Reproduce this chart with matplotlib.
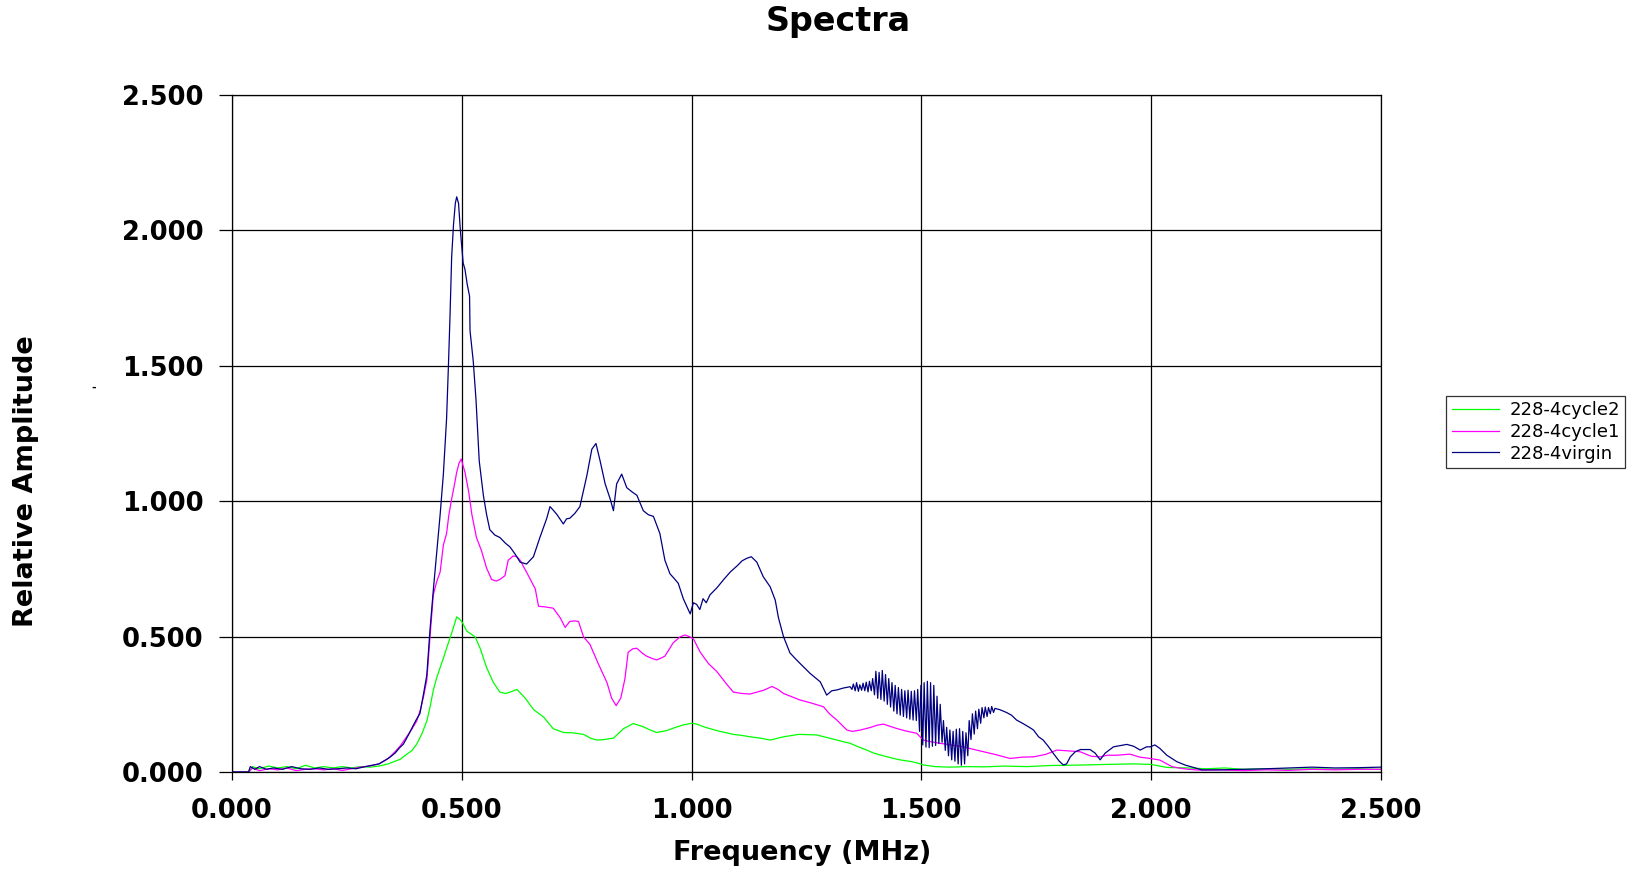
import matplotlib
matplotlib.use("Agg")
import matplotlib.pyplot as plt
from matplotlib.ticker import FormatStrFormatter

# --- data (frequency in MHz, relative amplitude) ---
# 228-4virgin, split in three parts: up to 1.345, the ringing part, and the tail
virgin_freq_a = [0.000, 0.036, 0.040, 0.050, 0.060, 0.075, 0.090, 0.110, 0.130, 0.150, 0.170, 0.190,
                 0.210, 0.230, 0.250, 0.270, 0.290, 0.305, 0.320, 0.335, 0.344, 0.355, 0.365, 0.373,
                 0.385, 0.395, 0.400, 0.409, 0.417, 0.424, 0.431, 0.438, 0.445, 0.453, 0.460, 0.467,
                 0.471, 0.4745, 0.478, 0.482, 0.486, 0.489, 0.493, 0.497, 0.500, 0.503, 0.507, 0.512,
                 0.517, 0.518, 0.525, 0.531, 0.538, 0.547, 0.554, 0.561, 0.572, 0.583, 0.595, 0.605,
                 0.616, 0.627, 0.641, 0.656, 0.670, 0.685, 0.692, 0.700, 0.707, 0.721, 0.728, 0.735,
                 0.746, 0.757, 0.772, 0.783, 0.792, 0.801, 0.812, 0.823, 0.830, 0.837, 0.848, 0.859,
                 0.870, 0.881, 0.895, 0.906, 0.917, 0.931, 0.942, 0.953, 0.962, 0.971, 0.982, 0.990,
                 0.997, 1.004, 1.011, 1.018, 1.025, 1.032, 1.040, 1.055, 1.070, 1.085, 1.099, 1.110,
                 1.120, 1.130, 1.142, 1.156, 1.171, 1.182, 1.189, 1.200, 1.214, 1.225, 1.236, 1.258,
                 1.280, 1.294, 1.305, 1.316, 1.330, 1.345]
virgin_amp_a = [0.000, 0.000, 0.020, 0.010, 0.020, 0.010, 0.015, 0.010, 0.020, 0.012, 0.010, 0.015,
                0.010, 0.012, 0.015, 0.012, 0.020, 0.025, 0.030, 0.045, 0.055, 0.070, 0.090, 0.103,
                0.140, 0.174, 0.190, 0.216, 0.290, 0.358, 0.527, 0.669, 0.800, 0.951, 1.100, 1.305,
                1.500, 1.686, 1.900, 2.020, 2.100, 2.124, 2.100, 2.000, 1.940, 1.880, 1.856, 1.800,
                1.757, 1.630, 1.517, 1.375, 1.149, 1.022, 0.951, 0.895, 0.875, 0.866, 0.845, 0.831,
                0.805, 0.775, 0.768, 0.795, 0.866, 0.937, 0.980, 0.965, 0.951, 0.916, 0.935, 0.937,
                0.955, 0.980, 1.093, 1.192, 1.213, 1.149, 1.064, 1.008, 0.965, 1.064, 1.100, 1.050,
                1.035, 1.022, 0.965, 0.950, 0.944, 0.881, 0.782, 0.732, 0.715, 0.697, 0.640, 0.610,
                0.584, 0.625, 0.619, 0.600, 0.640, 0.625, 0.654, 0.680, 0.711, 0.740, 0.761, 0.780,
                0.789, 0.795, 0.775, 0.721, 0.684, 0.635, 0.570, 0.500, 0.440, 0.420, 0.401, 0.364,
                0.333, 0.284, 0.300, 0.303, 0.310, 0.315]

virgin_freq_b = [1.349, 1.352, 1.356, 1.359, 1.363, 1.366, 1.370, 1.373, 1.377, 1.380, 1.384, 1.387,
                 1.391, 1.394, 1.398, 1.401, 1.405, 1.408, 1.412, 1.415, 1.419, 1.422, 1.426, 1.429,
                 1.433, 1.436, 1.440, 1.443, 1.447, 1.450, 1.454, 1.457, 1.461, 1.464, 1.468, 1.471,
                 1.475, 1.478, 1.482, 1.485, 1.489, 1.492, 1.496, 1.499, 1.503, 1.506, 1.510, 1.513,
                 1.517, 1.520, 1.524, 1.527, 1.531, 1.534, 1.538, 1.541, 1.545, 1.548, 1.552, 1.555,
                 1.559, 1.562, 1.566, 1.569, 1.573, 1.576, 1.580, 1.583, 1.587, 1.590, 1.594, 1.597,
                 1.601, 1.604, 1.608, 1.611, 1.615, 1.618, 1.622, 1.625, 1.629, 1.632, 1.636, 1.639,
                 1.643, 1.646, 1.650, 1.653, 1.657, 1.660]
virgin_amp_b = [0.305, 0.325, 0.300, 0.330, 0.298, 0.322, 0.302, 0.328, 0.300, 0.332, 0.296, 0.335,
                0.300, 0.345, 0.285, 0.372, 0.272, 0.368, 0.268, 0.375, 0.262, 0.360, 0.250, 0.345,
                0.240, 0.330, 0.225, 0.320, 0.215, 0.312, 0.210, 0.305, 0.205, 0.300, 0.200, 0.302,
                0.195, 0.298, 0.192, 0.300, 0.190, 0.305, 0.150, 0.320, 0.100, 0.330, 0.092, 0.335,
                0.090, 0.330, 0.095, 0.320, 0.098, 0.280, 0.105, 0.250, 0.110, 0.190, 0.080, 0.165,
                0.060, 0.155, 0.045, 0.150, 0.040, 0.158, 0.030, 0.160, 0.025, 0.150, 0.030, 0.145,
                0.060, 0.190, 0.120, 0.215, 0.140, 0.225, 0.160, 0.232, 0.180, 0.238, 0.200, 0.240,
                0.205, 0.238, 0.215, 0.242, 0.220, 0.235]

virgin_freq_c = [1.671, 1.685, 1.696, 1.707, 1.720, 1.735, 1.744, 1.755, 1.765, 1.776, 1.787, 1.800,
                 1.809, 1.816, 1.824, 1.835, 1.846, 1.867, 1.878, 1.889, 1.900, 1.918, 1.947, 1.962,
                 1.976, 1.990, 1.998, 2.008, 2.019, 2.034, 2.056, 2.075, 2.092, 2.110, 2.150, 2.200,
                 2.250, 2.300, 2.350, 2.400, 2.450, 2.500]
virgin_amp_c = [0.230, 0.220, 0.210, 0.192, 0.180, 0.165, 0.155, 0.130, 0.118, 0.095, 0.069, 0.040,
                0.026, 0.030, 0.056, 0.075, 0.083, 0.083, 0.070, 0.045, 0.070, 0.093, 0.102, 0.095,
                0.081, 0.093, 0.093, 0.100, 0.087, 0.062, 0.038, 0.025, 0.017, 0.008, 0.008, 0.010,
                0.012, 0.015, 0.018, 0.015, 0.016, 0.018]

cycle1_freq = [0.000, 0.036, 0.045, 0.060, 0.080, 0.100, 0.120, 0.140, 0.160, 0.180, 0.200, 0.220,
               0.240, 0.260, 0.280, 0.300, 0.320, 0.340, 0.355, 0.366, 0.380, 0.392, 0.402, 0.410,
               0.417, 0.424, 0.431, 0.438, 0.445, 0.453, 0.460, 0.467, 0.472, 0.478, 0.484, 0.489,
               0.494, 0.499, 0.503, 0.507, 0.515, 0.522, 0.532, 0.543, 0.554, 0.565, 0.575, 0.583,
               0.594, 0.601, 0.612, 0.620, 0.627, 0.645, 0.660, 0.667, 0.680, 0.699, 0.714, 0.725,
               0.735, 0.745, 0.754, 0.765, 0.779, 0.797, 0.816, 0.826, 0.836, 0.846, 0.855, 0.862,
               0.872, 0.881, 0.892, 0.902, 0.913, 0.924, 0.933, 0.942, 0.960, 0.975, 0.986, 0.995,
               1.004, 1.019, 1.037, 1.055, 1.077, 1.091, 1.110, 1.127, 1.142, 1.157, 1.175, 1.188,
               1.200, 1.215, 1.236, 1.260, 1.287, 1.300, 1.316, 1.338, 1.350, 1.367, 1.390, 1.404,
               1.417, 1.430, 1.446, 1.465, 1.490, 1.504, 1.520, 1.541, 1.565, 1.591, 1.610, 1.635,
               1.660, 1.693, 1.720, 1.744, 1.770, 1.795, 1.820, 1.845, 1.870, 1.889, 1.905, 1.925,
               1.954, 1.975, 1.998, 2.019, 2.045, 2.060, 2.080, 2.107, 2.150, 2.200, 2.250, 2.300,
               2.350, 2.400, 2.450, 2.500]
cycle1_amp = [0.000, 0.000, 0.015, 0.005, 0.012, 0.008, 0.015, 0.005, 0.010, 0.012, 0.008, 0.012,
              0.006, 0.012, 0.018, 0.022, 0.030, 0.050, 0.075, 0.096, 0.130, 0.160, 0.188, 0.230,
              0.280, 0.340, 0.500, 0.653, 0.700, 0.739, 0.838, 0.881, 0.950, 1.008, 1.060, 1.107,
              1.140, 1.156, 1.130, 1.107, 1.036, 0.951, 0.866, 0.817, 0.753, 0.711, 0.705, 0.711,
              0.725, 0.782, 0.798, 0.795, 0.782, 0.725, 0.676, 0.612, 0.610, 0.605, 0.570, 0.534,
              0.556, 0.558, 0.556, 0.499, 0.471, 0.400, 0.330, 0.273, 0.245, 0.273, 0.344, 0.442,
              0.455, 0.457, 0.440, 0.428, 0.420, 0.414, 0.420, 0.428, 0.477, 0.499, 0.506, 0.500,
              0.492, 0.442, 0.400, 0.371, 0.323, 0.295, 0.290, 0.288, 0.295, 0.302, 0.316, 0.305,
              0.290, 0.280, 0.266, 0.255, 0.241, 0.215, 0.192, 0.155, 0.150, 0.155, 0.165, 0.173,
              0.177, 0.170, 0.161, 0.152, 0.143, 0.118, 0.112, 0.106, 0.100, 0.093, 0.085, 0.075,
              0.065, 0.050, 0.055, 0.056, 0.065, 0.081, 0.078, 0.075, 0.058, 0.056, 0.062, 0.062,
              0.066, 0.055, 0.050, 0.044, 0.020, 0.015, 0.010, 0.007, 0.008, 0.005, 0.008, 0.006,
              0.010, 0.008, 0.010, 0.010]

cycle2_freq = [0.000, 0.036, 0.045, 0.060, 0.080, 0.100, 0.120, 0.140, 0.160, 0.180, 0.200, 0.220,
               0.240, 0.260, 0.280, 0.300, 0.320, 0.340, 0.355, 0.366, 0.380, 0.392, 0.402, 0.413,
               0.424, 0.431, 0.438, 0.445, 0.453, 0.460, 0.467, 0.478, 0.484, 0.489, 0.495, 0.500,
               0.511, 0.520, 0.529, 0.540, 0.554, 0.569, 0.583, 0.595, 0.605, 0.620, 0.638, 0.656,
               0.678, 0.699, 0.721, 0.740, 0.765, 0.780, 0.794, 0.810, 0.830, 0.852, 0.873, 0.895,
               0.910, 0.924, 0.946, 0.965, 0.982, 1.000, 1.011, 1.030, 1.055, 1.075, 1.091, 1.110,
               1.127, 1.150, 1.171, 1.200, 1.233, 1.272, 1.300, 1.330, 1.345, 1.360, 1.381, 1.396,
               1.417, 1.440, 1.453, 1.480, 1.498, 1.504, 1.530, 1.560, 1.600, 1.635, 1.680, 1.730,
               1.780, 1.820, 1.853, 1.900, 1.962, 2.000, 2.034, 2.080, 2.120, 2.160, 2.200, 2.250,
               2.300, 2.350, 2.400, 2.450, 2.500]
cycle2_amp = [0.000, 0.000, 0.020, 0.012, 0.022, 0.015, 0.020, 0.012, 0.025, 0.015, 0.020, 0.015,
              0.020, 0.015, 0.020, 0.018, 0.022, 0.030, 0.040, 0.047, 0.065, 0.080, 0.103, 0.140,
              0.188, 0.240, 0.301, 0.345, 0.386, 0.420, 0.457, 0.513, 0.545, 0.573, 0.565, 0.556,
              0.520, 0.510, 0.499, 0.457, 0.386, 0.330, 0.295, 0.290, 0.295, 0.305, 0.273, 0.231,
              0.203, 0.160, 0.146, 0.145, 0.139, 0.125, 0.118, 0.120, 0.125, 0.160, 0.179, 0.167,
              0.155, 0.146, 0.153, 0.165, 0.174, 0.180, 0.177, 0.165, 0.153, 0.145, 0.139, 0.135,
              0.130, 0.125, 0.118, 0.130, 0.139, 0.137, 0.125, 0.112, 0.106, 0.095, 0.081, 0.070,
              0.060, 0.050, 0.045, 0.038, 0.030, 0.026, 0.020, 0.018, 0.020, 0.019, 0.022, 0.020,
              0.024, 0.025, 0.026, 0.028, 0.030, 0.028, 0.017, 0.015, 0.012, 0.015, 0.010, 0.012,
              0.010, 0.012, 0.010, 0.012, 0.010]

series_labels = ['228-4cycle2', '228-4cycle1', '228-4virgin']
x_ticks = [0.0, 0.5, 1.0, 1.5, 2.0, 2.5]
y_ticks = [0.0, 0.5, 1.0, 1.5, 2.0, 2.5]

virgin_freq = virgin_freq_a + virgin_freq_b + virgin_freq_c
virgin_amp = virgin_amp_a + virgin_amp_b + virgin_amp_c

fig = plt.figure(figsize=(16.38, 8.69), dpi=100)
ax = fig.add_axes([0.1416, 0.1116, 0.7015, 0.7791])

ax.plot(cycle2_freq, cycle2_amp, color='#00ff00', lw=0.9, label=series_labels[0])
ax.plot(cycle1_freq, cycle1_amp, color='#ff00ff', lw=0.9, label=series_labels[1])
ax.plot(virgin_freq, virgin_amp, color='#000080', lw=0.9, label=series_labels[2])

ax.set_xlim(0, 2.5)
ax.set_ylim(0, 2.5)
ax.set_xticks(x_ticks)
ax.set_yticks(y_ticks)
ax.xaxis.set_major_formatter(FormatStrFormatter('%.3f'))
ax.yaxis.set_major_formatter(FormatStrFormatter('%.3f'))
ax.grid(True, color='black', lw=0.9)
ax.set_axisbelow(True)
for s in ax.spines.values():
    s.set_color('black')
    s.set_linewidth(0.9)
ax.tick_params(axis='y', length=9.5, width=0.9, pad=11)
ax.tick_params(axis='x', length=6, width=0.9, pad=13)
for lab in ax.get_xticklabels() + ax.get_yticklabels():
    lab.set_fontfamily('DejaVu Sans')
    lab.set_fontweight('bold')
    lab.set_fontsize(18.5)

fig.text(0.5116, 0.975, 'Spectra', ha='center', va='center', fontsize=24,
         fontweight='bold', family='DejaVu Sans')
fig.text(0.4896, 0.0184, 'Frequency (MHz)', ha='center', va='center', fontsize=19.5,
         fontweight='bold', family='DejaVu Sans')
fig.text(0.0159, 0.4458, 'Relative Amplitude', ha='center', va='center', rotation=90,
         fontsize=19.5, fontweight='bold', family='DejaVu Sans')
fig.text(0.0574, 0.5535, '-', ha='center', va='center', fontsize=8, fontweight='bold')

leg = ax.legend(loc='upper left', bbox_to_anchor=(0.883, 0.5443), bbox_transform=fig.transFigure,
                borderaxespad=0, fancybox=False, frameon=True, prop={'family': 'DejaVu Sans', 'size': 13},
                handlelength=2.6, labelspacing=0.2, borderpad=0.3, handletextpad=0.6)
leg.get_frame().set_edgecolor('black')
leg.get_frame().set_linewidth(0.9)

fig.savefig('out.png', dpi=100)
